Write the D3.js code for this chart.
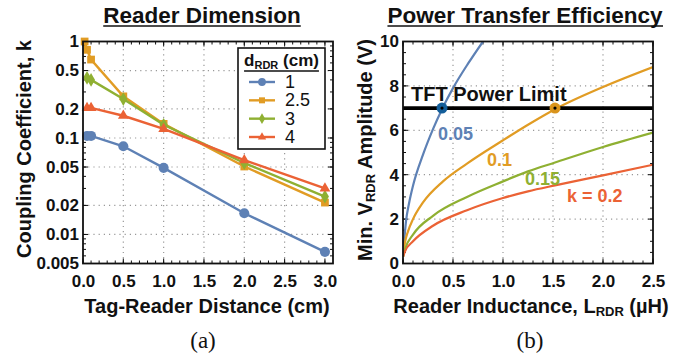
<!DOCTYPE html>
<html>
<head>
<meta charset="utf-8">
<script src="https://cdn.jsdelivr.net/npm/d3@7"></script>
<style>
  body { margin: 0; background: #fff; }
  svg text { font-family: "Liberation Sans", Arial, sans-serif; font-weight: bold; fill: #111; }
</style>
</head>
<body>
<div id="chart"></div>
<script>
////////////////////////////////////////////////////////////////////
//////////////////////////////  Data  //////////////////////////////
// (a) coupling coefficient vs tag-reader distance, one array per reader size
const readerSizes = ["1", "2.5", "3", "4"];
const distD1 = [0.05, 0.1, 0.5, 1, 2, 3];
const kD1 = [0.105, 0.105, 0.082, 0.049, 0.0166, 0.0066];
const distD25 = [0.02, 0.05, 0.1, 0.5, 1, 2, 3];
const kD25 = [1.0, 0.82, 0.65, 0.27, 0.14, 0.0506, 0.0214];
const distD3 = [0.05, 0.1, 0.5, 1, 2, 3];
const kD3 = [0.42, 0.40, 0.253, 0.137, 0.055, 0.0247];
const distD4 = [0.05, 0.1, 0.5, 1, 2, 3];
const kD4 = [0.205, 0.205, 0.17, 0.124, 0.059, 0.030];

const xTicksA = [0, 0.5, 1, 1.5, 2, 2.5, 3];
const yTicksA = [1, 0.5, 0.2, 0.1, 0.05, 0.02, 0.01, 0.005];

// (b) minimum reader voltage vs reader inductance, one array per k
const kLabels = ["0.05", "0.1", "0.15", "k = 0.2"];
const indK005 = [0, 0.01, 0.03, 0.06, 0.1, 0.2, 0.3, 0.39, 0.5, 0.65, 0.8];
const vK005 = [0.3, 0.9, 1.9, 2.7, 3.5, 4.9, 6.05, 6.95, 7.9, 9.0, 10.0];
const indK01 = [0, 0.02, 0.05, 0.1, 0.2, 0.4, 0.64, 1.0, 1.25, 1.52, 2.0, 2.5];
const vK01 = [0.3, 0.95, 1.45, 2.0, 2.75, 3.7, 4.5, 5.55, 6.25, 6.95, 7.95, 8.85];
const indK015 = [0, 0.02, 0.1, 0.3, 0.64, 1.0, 1.25, 1.52, 2.0, 2.5];
const vK015 = [0.3, 0.65, 1.3, 2.15, 3.0, 3.7, 4.15, 4.55, 5.25, 5.9];
const indK02 = [0, 0.02, 0.1, 0.3, 0.64, 1.0, 1.25, 1.52, 2.0, 2.5];
const vK02 = [0.3, 0.55, 1.0, 1.7, 2.4, 2.95, 3.25, 3.52, 3.97, 4.45];

const powerLimit = 7;
const limitHits = [0.39, 1.52]; // k = 0.05 and k = 0.1 crossings

const xTicksB = [0, 0.5, 1, 1.5, 2, 2.5];
const yTicksB = [0, 2, 4, 6, 8, 10];

// mathematica-like palette
const colors = ["#5E81B5", "#E19C24", "#8FB032", "#EB6235"];

////////////////////////////////////////////////////////////////////
//////////////////////////////  Init  ///////////////////////////////
const width = 699, height = 360;
const svg = d3.select("#chart").append("svg")
    .attr("width", width).attr("height", height);

const plotTop = 41.5, plotBottom = 263.5;

function underlinedTitle(x, y, txt) {
    const t = svg.append("text").attr("x", x).attr("y", y)
        .attr("text-anchor", "middle").attr("font-size", 22.5).text(txt);
    const bb = t.node().getBBox();
    svg.append("line").attr("x1", bb.x).attr("x2", bb.x + bb.width)
        .attr("y1", y + 3).attr("y2", y + 3)
        .attr("stroke", "#111").attr("stroke-width", 1.6);
}

function frame(g, x, y, minorX, minorY) {
    const [x0, x1] = x.range();
    const [y0, y1] = y.range();
    // grid
    g.append("g").selectAll("line").data(x.ticksV.slice(1, -1)).join("line")
        .attr("x1", d => x(d)).attr("x2", d => x(d)).attr("y1", y0).attr("y2", y1)
        .attr("stroke", "#999").attr("stroke-width", 1.2).attr("stroke-dasharray", "1.2,4");
    g.append("g").selectAll("line").data(y.ticksV.slice(1, -1)).join("line")
        .attr("y1", d => y(d)).attr("y2", d => y(d)).attr("x1", x0).attr("x2", x1)
        .attr("stroke", "#999").attr("stroke-width", 1.2).attr("stroke-dasharray", "1.2,4");
    // minor + major ticks on all four sides
    const tk = g.append("g").attr("stroke", "#111").attr("stroke-width", 1);
    [[minorX, 3], [x.ticksV, 5]].forEach(([vals, len]) => {
        tk.selectAll(null).data(vals).join("line")
            .attr("x1", d => x(d)).attr("x2", d => x(d)).attr("y1", y0).attr("y2", y0 - len);
        tk.selectAll(null).data(vals).join("line")
            .attr("x1", d => x(d)).attr("x2", d => x(d)).attr("y1", y1).attr("y2", y1 + len);
    });
    [[minorY, 3], [y.ticksV, 5]].forEach(([vals, len]) => {
        tk.selectAll(null).data(vals).join("line")
            .attr("y1", d => y(d)).attr("y2", d => y(d)).attr("x1", x0).attr("x2", x0 + len);
        tk.selectAll(null).data(vals).join("line")
            .attr("y1", d => y(d)).attr("y2", d => y(d)).attr("x1", x1).attr("x2", x1 - len);
    });
}

function frameBorder(g, x, y) {
    const [x0, x1] = x.range();
    const [y0, y1] = y.range();
    g.append("rect").attr("x", x0).attr("y", y1).attr("width", x1 - x0).attr("height", y0 - y1)
        .attr("fill", "none").attr("stroke", "#111").attr("stroke-width", 1.8);
}

function tickLabels(g, x, y, fmtX, fmtY) {
    g.append("g").attr("transform", `translate(0,${y.range()[0]})`)
        .call(d3.axisBottom(x).tickValues(x.ticksV).tickFormat(fmtX).tickSize(0).tickPadding(11))
        .call(s => s.select(".domain").remove())
        .selectAll("text").attr("font-size", 17).attr("font-family", null).attr("fill", "#111");
    g.append("g").attr("transform", `translate(${x.range()[0]},0)`)
        .call(d3.axisLeft(y).tickValues(y.ticksV).tickFormat(fmtY).tickSize(0).tickPadding(4))
        .call(s => s.select(".domain").remove())
        .selectAll("text").attr("font-size", 17).attr("font-family", null).attr("fill", "#111");
}

////////////////////////////////////////////////////////////////////
//////////////////////////////  Panel (a)  //////////////////////////
const xA = d3.scaleLinear().domain([0, 3.1]).range([83, 333]);
const yA = d3.scaleLog().domain([0.005, 1]).range([plotBottom, plotTop]);
xA.ticksV = xTicksA;
yA.ticksV = yTicksA;

const minorXA = d3.range(0, 3.1, 0.1);
const minorYA = [];
[-3, -2, -1].forEach(e => d3.range(1, 10).forEach(m => {
    const v = m * Math.pow(10, e);
    if (v >= 0.005 && v <= 1) minorYA.push(v);
}));

const gA = svg.append("g");
frame(gA, xA, yA, minorXA, minorYA);

const seriesA = [
    { name: readerSizes[0], x: distD1, y: kD1, sym: d3.symbolCircle, size: 80 },
    { name: readerSizes[1], x: distD25, y: kD25, sym: d3.symbolSquare, size: 60 },
    { name: readerSizes[2], x: distD3, y: kD3, sym: d3.symbolDiamond, size: 55 },
    { name: readerSizes[3], x: distD4, y: kD4, sym: d3.symbolTriangle, size: 50 }
];

const lineA = d3.line().x(d => xA(d[0])).y(d => yA(d[1]));
seriesA.forEach((s, i) => {
    const pts = s.x.map((v, j) => [v, s.y[j]]);
    gA.append("path").datum(pts).attr("d", lineA)
        .attr("fill", "none").attr("stroke", colors[i]).attr("stroke-width", 2.4);
    gA.selectAll(null).data(pts).join("path")
        .attr("transform", d => `translate(${xA(d[0])},${yA(d[1])})`)
        .attr("d", d3.symbol().type(s.sym).size(s.size))
        .attr("fill", colors[i]);
});

frameBorder(gA, xA, yA);
tickLabels(gA, xA, yA, d3.format(".1f"), d => String(d));

// legend
const leg = gA.append("g");
leg.append("rect").attr("x", 238).attr("y", 48).attr("width", 87).attr("height", 101)
    .attr("fill", "#fff").attr("stroke", "#111").attr("stroke-width", 1.6);
const legTitle = leg.append("text").attr("x", 281.5).attr("y", 66).attr("text-anchor", "middle")
    .attr("font-size", 17);
legTitle.append("tspan").text("d");
legTitle.append("tspan").attr("font-size", 11).attr("dy", 3).text("RDR");
legTitle.append("tspan").attr("dy", -3).text(" (cm)");
const ltb = legTitle.node().getBBox();
leg.append("line").attr("x1", ltb.x).attr("x2", ltb.x + ltb.width)
    .attr("y1", 71).attr("y2", 71).attr("stroke", "#111").attr("stroke-width", 1.4);
const legY = d3.scalePoint().domain(readerSizes).range([82, 137]);
seriesA.forEach((s, i) => {
    const y = legY(s.name);
    leg.append("line").attr("x1", 249).attr("x2", 275).attr("y1", y).attr("y2", y)
        .attr("stroke", colors[i]).attr("stroke-width", 2.4);
    leg.append("path").attr("transform", `translate(262,${y})`)
        .attr("d", d3.symbol().type(s.sym).size(s.size * 0.6)).attr("fill", colors[i]);
    leg.append("text").attr("x", 285).attr("y", y + 6).attr("font-size", 18)
        .style("font-weight", "normal").text(s.name);
});

underlinedTitle(202, 23, "Reader Dimension");
svg.append("text").attr("x", 207).attr("y", 313).attr("text-anchor", "middle")
    .attr("font-size", 20).text("Tag-Reader Distance (cm)");
svg.append("text").attr("transform", "translate(31,149) rotate(-90)")
    .attr("text-anchor", "middle").attr("font-size", 20).text("Coupling Coefficient, k");

////////////////////////////////////////////////////////////////////
//////////////////////////////  Panel (b)  //////////////////////////
const xB = d3.scaleLinear().domain([0, 2.5]).range([403, 653]);
const yB = d3.scaleLinear().domain([0, 10]).range([plotBottom, plotTop]);
xB.ticksV = xTicksB;
yB.ticksV = yTicksB;

const gB = svg.append("g");
frame(gB, xB, yB, d3.range(0, 2.55, 0.1), d3.range(0, 10.01, 0.5));

svg.append("clipPath").attr("id", "clipB").append("rect")
    .attr("x", 403).attr("y", plotTop).attr("width", 250).attr("height", plotBottom - plotTop);

const seriesB = [
    { x: indK005, y: vK005 },
    { x: indK01, y: vK01 },
    { x: indK015, y: vK015 },
    { x: indK02, y: vK02 }
];
const lineB = d3.line().x(d => xB(d[0])).y(d => yB(d[1])).curve(d3.curveMonotoneX);
seriesB.forEach((s, i) => {
    const pts = s.x.map((v, j) => [v, s.y[j]]);
    gB.append("path").datum(pts).attr("d", lineB).attr("clip-path", "url(#clipB)")
        .attr("fill", "none").attr("stroke", colors[i]).attr("stroke-width", 2.2);
});

// power limit
gB.append("line").attr("x1", xB(0)).attr("x2", xB(2.5))
    .attr("y1", yB(powerLimit)).attr("y2", yB(powerLimit))
    .attr("stroke", "#000").attr("stroke-width", 3.6);
const hitColors = ["#135E9A", "#D9941C"];
limitHits.forEach((h, i) => {
    gB.append("circle").attr("cx", xB(h)).attr("cy", yB(powerLimit)).attr("r", 5.5)
        .attr("fill", hitColors[i]);
    gB.append("circle").attr("cx", xB(h)).attr("cy", yB(powerLimit)).attr("r", 1.6)
        .attr("fill", "#000");
});
gB.append("text").attr("x", 411).attr("y", 101).attr("font-size", 20).text("TFT Power Limit");

// curve labels
const kLabelPos = [[438, 140], [487, 166], [525, 185], [567, 202]];
kLabels.forEach((t, i) => {
    gB.append("text").attr("x", kLabelPos[i][0]).attr("y", kLabelPos[i][1])
        .attr("font-size", 18).style("fill", colors[i]).text(t);
});

frameBorder(gB, xB, yB);
tickLabels(gB, xB, yB, d3.format(".1f"), d3.format("d"));

underlinedTitle(525, 23, "Power Transfer Efficiency");
const xlb = svg.append("text").attr("x", 531).attr("y", 313).attr("text-anchor", "middle")
    .attr("font-size", 20);
xlb.append("tspan").text("Reader Inductance, L");
xlb.append("tspan").attr("font-size", 13).attr("dy", 3).text("RDR");
xlb.append("tspan").attr("dy", -3).text(" (\u00b5H)");
const ylb = svg.append("text").attr("transform", "translate(372,150) rotate(-90)")
    .attr("text-anchor", "middle").attr("font-size", 20);
ylb.append("tspan").text("Min. V");
ylb.append("tspan").attr("font-size", 13).attr("dy", 3).text("RDR");
ylb.append("tspan").attr("dy", -3).text(" Amplitude (V)");

// panel captions
[["(a)", 203], ["(b)", 530]].forEach(([t, x]) => {
    svg.append("text").attr("x", x).attr("y", 348).attr("text-anchor", "middle")
        .attr("font-size", 23)
        .style("font-weight", "normal")
        .style("font-family", "'Liberation Serif', 'Times New Roman', serif").text(t);
});
</script>
</body>
</html>
